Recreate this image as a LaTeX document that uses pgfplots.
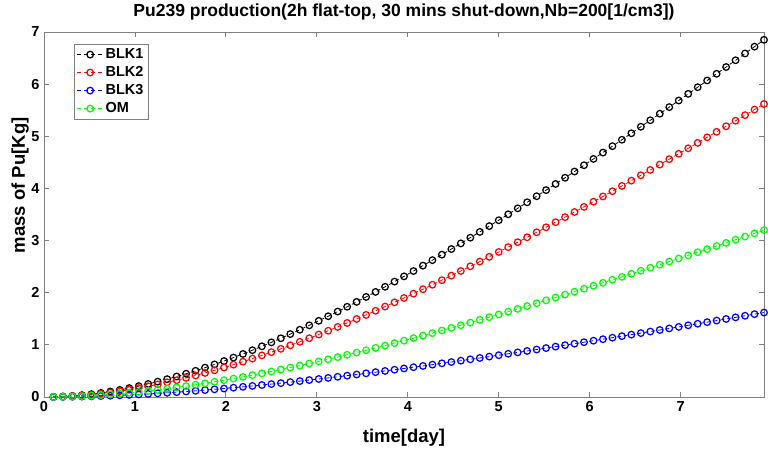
\documentclass[border=0pt]{standalone}
\usepackage{fontspec}
\setmainfont{Liberation Sans}
\usepackage{pgfplots}
\usepackage{pgfplotstable}
\pgfplotsset{compat=1.18}

% time (2.5 h cycles) and mass of Pu [kg] per blanket
\pgfplotstableread{
t      b1     b2     b3     om
0.1042 0.0023 0.0019 0.0005 0.0011
0.2083 0.0091 0.0075 0.0021 0.0042
0.3125 0.0202 0.0166 0.0048 0.0094
0.4167 0.0356 0.0292 0.0084 0.0166
0.5208 0.0550 0.0451 0.0130 0.0257
0.6250 0.0783 0.0643 0.0185 0.0366
0.7292 0.1055 0.0866 0.0250 0.0493
0.8333 0.1364 0.1119 0.0323 0.0637
0.9375 0.1709 0.1402 0.0404 0.0798
1.0417 0.2088 0.1713 0.0494 0.0975
1.1458 0.2501 0.2052 0.0592 0.1168
1.2500 0.2947 0.2417 0.0697 0.1376
1.3542 0.3424 0.2809 0.0810 0.1599
1.4583 0.3931 0.3225 0.0930 0.1836
1.5625 0.4468 0.3666 0.1057 0.2087
1.6667 0.5033 0.4130 0.1190 0.2351
1.7708 0.5627 0.4616 0.1331 0.2629
1.8750 0.6247 0.5125 0.1477 0.2918
1.9792 0.6893 0.5655 0.1630 0.3220
2.0833 0.7564 0.6205 0.1789 0.3533
2.1875 0.8259 0.6776 0.1953 0.3858
2.2917 0.8978 0.7366 0.2123 0.4194
2.3958 0.9720 0.7974 0.2299 0.4540
2.5000 1.0483 0.8601 0.2479 0.4897
2.6042 1.1268 0.9245 0.2665 0.5264
2.7083 1.2074 0.9906 0.2856 0.5640
2.8125 1.2900 1.0584 0.3051 0.6026
2.9167 1.3745 1.1277 0.3251 0.6421
3.0208 1.4610 1.1986 0.3455 0.6825
3.1250 1.5492 1.2710 0.3664 0.7237
3.2292 1.6391 1.3448 0.3877 0.7657
3.3333 1.7308 1.4200 0.4094 0.8086
3.4375 1.8242 1.4966 0.4314 0.8522
3.5417 1.9191 1.5745 0.4539 0.8965
3.6458 2.0156 1.6537 0.4767 0.9416
3.7500 2.1136 1.7340 0.4999 0.9873
3.8542 2.2130 1.8156 0.5234 1.0338
3.9583 2.3138 1.8984 0.5473 1.0809
4.0625 2.4160 1.9822 0.5714 1.1286
4.1667 2.5196 2.0671 0.5959 1.1770
4.2708 2.6243 2.1531 0.6207 1.2260
4.3750 2.7303 2.2400 0.6458 1.2755
4.4792 2.8376 2.3280 0.6711 1.3256
4.5833 2.9459 2.4169 0.6967 1.3762
4.6875 3.0554 2.5067 0.7226 1.4273
4.7917 3.1660 2.5975 0.7488 1.4790
4.8958 3.2776 2.6891 0.7752 1.5311
5.0000 3.3903 2.7815 0.8018 1.5838
5.1042 3.5039 2.8747 0.8287 1.6369
5.2083 3.6185 2.9687 0.8558 1.6904
5.3125 3.7340 3.0634 0.8831 1.7443
5.4167 3.8504 3.1590 0.9107 1.7987
5.5208 3.9677 3.2552 0.9384 1.8535
5.6250 4.0858 3.3521 0.9663 1.9087
5.7292 4.2046 3.4496 0.9944 1.9642
5.8333 4.3243 3.5478 1.0228 2.0201
5.9375 4.4448 3.6466 1.0512 2.0764
6.0417 4.5661 3.7461 1.0799 2.1330
6.1458 4.6879 3.8461 1.1087 2.1899
6.2500 4.8104 3.9467 1.1377 2.2472
6.3542 4.9337 4.0478 1.1669 2.3048
6.4583 5.0577 4.1495 1.1962 2.3627
6.5625 5.1822 4.2517 1.2257 2.4209
6.6667 5.3074 4.3543 1.2553 2.4793
6.7708 5.4331 4.4575 1.2850 2.5381
6.8750 5.5594 4.5611 1.3149 2.5971
6.9792 5.6863 4.6651 1.3449 2.6563
7.0833 5.8137 4.7697 1.3750 2.7158
7.1875 5.9416 4.8746 1.4052 2.7756
7.2917 6.0699 4.9799 1.4356 2.8356
7.3958 6.1988 5.0857 1.4661 2.8958
7.5000 6.3282 5.1918 1.4967 2.9562
7.6042 6.4580 5.2983 1.5274 3.0168
7.7083 6.5882 5.4052 1.5582 3.0777
7.8125 6.7189 5.5124 1.5891 3.1387
7.9167 6.8500 5.6199 1.6201 3.2000
}\pudata

\definecolor{mlgreen}{rgb}{0,1,0}
\definecolor{axgray}{gray}{0.5}

\begin{document}
\begin{tikzpicture}
\begin{axis}[
  name=main,
  scale only axis,
  width=720pt, height=365pt,
  xmin=0, xmax=7.9167,
  ymin=0, ymax=7,
  xtick={0,1,...,7},
  ytick={0,1,...,7},
  tick align=inside,
  major tick length=5pt,
  axis line style={axgray, line width=0.8pt},
  every tick/.style={axgray, line width=0.8pt},
  /pgf/number format/assume math mode=true,
  tick label style={font=\bfseries\fontsize{14.5}{15}\selectfont},
  xticklabel style={yshift=-1pt},
  yticklabel style={xshift=-1pt},
  label style={font=\bfseries\fontsize{18.5}{19}\selectfont},
  title style={font=\bfseries\fontsize{17.5}{18}\selectfont,
    at={(0.5,1)}, anchor=base, yshift=10pt},
  title={Pu239 production(2h flat-top, 30 mins shut-down,Nb=200[1/cm3])},
  xlabel={time[day]},
  ylabel={mass of Pu[Kg]},
  xlabel style={at={(0.5,0)}, anchor=base, yshift=-45pt},
  ylabel style={at={(0,0.58)}, anchor=base, yshift=19pt},
  legend style={
    at={(0.0416,0.967)}, anchor=north west,
    draw=axgray, line width=0.6pt,
    font=\bfseries\fontsize{14.5}{15}\selectfont,
    row sep=2.4pt, inner sep=2.5pt,
    cells={anchor=west},
  },
  legend image code/.code={
    \draw[#1, mark repeat=2, mark phase=2]
      plot coordinates {(0pt,0pt) (13pt,0pt) (26pt,0pt)};
  },
  every axis plot/.append style={
    line width=0.8pt,
    dash pattern=on 4pt off 3pt,
    mark=o,
    mark size=3.3pt,
    mark options={solid, line width=1.25pt},
  },
]
\addplot[black] table[x=t, y=b1] {\pudata};
\addplot[red] table[x=t, y=b2] {\pudata};
\addplot[blue] table[x=t, y=b3] {\pudata};
\addplot[mlgreen] table[x=t, y=om] {\pudata};
\legend{BLK1, BLK2, BLK3, OM}
\end{axis}
% page frame: 44pt left, 4pt right, 30pt top, 52pt bottom of the axis box
\path (main.south west) ++(-44pt,-52pt) coordinate (bl);
\path (main.north east) ++(4pt,30pt) coordinate (tr);
\path (bl) rectangle (tr);
\end{tikzpicture}
\end{document}
